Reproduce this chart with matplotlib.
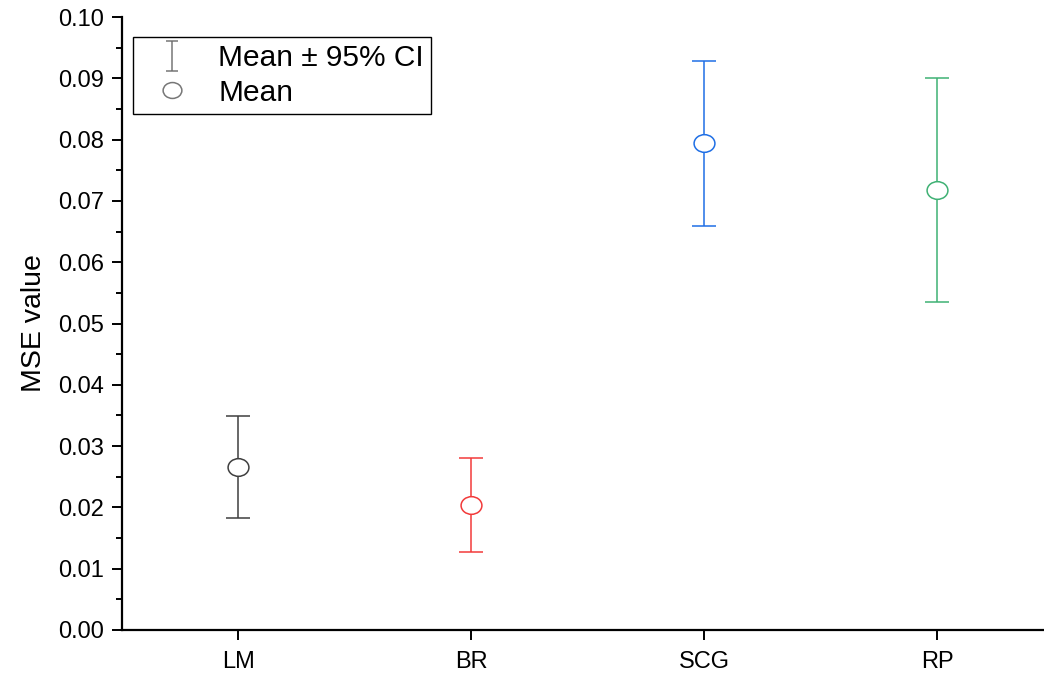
import matplotlib
matplotlib.use('Agg')
import matplotlib.pyplot as plt
import numpy as np
from matplotlib.path import Path
from matplotlib.lines import Line2D

plt.rc('font', family=['Liberation Sans', 'DejaVu Sans'])

methods = ['LM', 'BR', 'SCG', 'RP']
mse_mean = [0.0266, 0.0204, 0.0794, 0.0718]
ci_low = [0.0183, 0.0127, 0.0659, 0.0535]
ci_high = [0.0349, 0.0281, 0.0928, 0.0901]
colors = ['#3f3f3f', '#f23a3a', '#1f6fe5', '#3fb174']

# slightly wide circle, like the reference
circ = Path.unit_circle()
ellipse = Path(circ.vertices * np.array([1.18, 1.0]), circ.codes)

# I-beam for the CI legend entry
ibeam = Path([(0, -1), (0, 1), (-0.42, 1), (0.42, 1), (-0.42, -1), (0.42, -1)],
             [Path.MOVETO, Path.LINETO, Path.MOVETO, Path.LINETO, Path.MOVETO, Path.LINETO])

fig = plt.figure(figsize=(10.44, 6.73), dpi=100)
ax = fig.add_axes([122 / 1044, 43 / 673, (1044 - 122) / 1044, (630 - 17) / 673])

x = np.arange(1, len(methods) + 1)
for xi, m, lo, hi, c in zip(x, mse_mean, ci_low, ci_high, colors):
    ax.errorbar(xi, m, yerr=[[m - lo], [hi - m]], fmt='none', ecolor=c,
                elinewidth=1.1, capsize=8.5, capthick=1.1, zorder=2)
    ax.plot(xi, m, linestyle='none', marker=ellipse, markersize=15,
            markerfacecolor='white', markeredgecolor=c, markeredgewidth=1.1, zorder=3)

ax.set_xlim(0.5, 0.5 + (1044 - 122) / 233)
ax.set_ylim(0, 0.10)
ax.set_xticks(x)
ax.set_xticklabels(methods)
ax.set_yticks(np.arange(0, 0.101, 0.01))
ax.set_yticklabels([f'{v:.2f}' for v in np.arange(0, 0.101, 0.01)])
ax.set_yticks(np.arange(0.005, 0.1, 0.01), minor=True)

for s in ['top', 'right']:
    ax.spines[s].set_visible(False)
for s in ['left', 'bottom']:
    ax.spines[s].set_linewidth(1.6)

ax.tick_params(axis='both', which='major', direction='out', length=7, width=1.4, labelsize=17)
ax.tick_params(axis='y', which='minor', direction='out', length=4, width=1.4)
ax.tick_params(axis='y', which='major', pad=6)
ax.tick_params(axis='x', which='major', pad=8)
ax.set_ylabel('MSE value', fontsize=20.5, labelpad=8)

handles = [
    Line2D([], [], linestyle='none', marker=ibeam, markersize=21, color='#777777',
           markeredgewidth=1.1),
    Line2D([], [], linestyle='none', marker=ellipse, markersize=13.5,
           markerfacecolor='white', markeredgecolor='#777777', markeredgewidth=1.1),
]
leg = ax.legend(handles, ['Mean \u00b1 95% CI', 'Mean'], loc='upper left',
                bbox_to_anchor=(0.012, 0.968), borderaxespad=0, fontsize=21.5,
                frameon=True, fancybox=False, framealpha=1, edgecolor='black',
                handlelength=2.1, handletextpad=0.5, labelspacing=0.22,
                borderpad=0.25)
leg.get_frame().set_linewidth(1.0)

fig.savefig('out.png', dpi=100)
